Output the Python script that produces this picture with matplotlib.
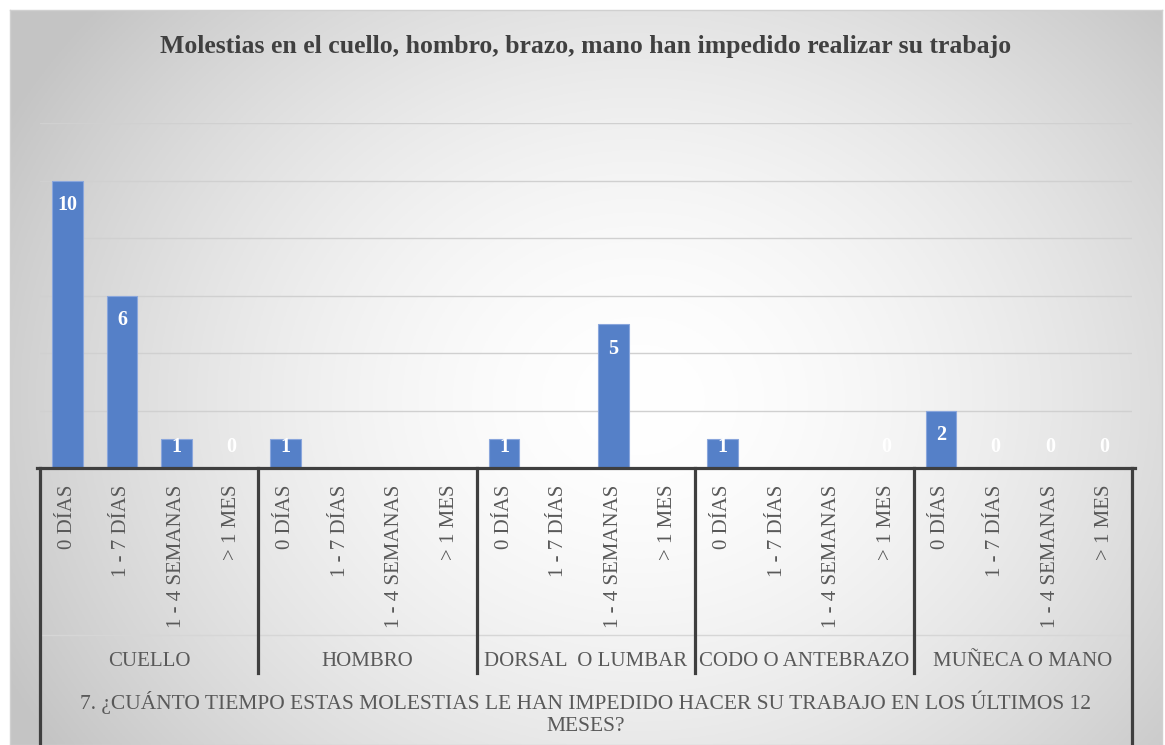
import numpy as np
import matplotlib
matplotlib.use("Agg")
import matplotlib.pyplot as plt
from matplotlib.transforms import blended_transform_factory

# data
groups = ["CUELLO", "HOMBRO", "DORSAL  O LUMBAR", "CODO O ANTEBRAZO", "MUÑECA O MANO"]
periods = ["0 DÍAS", "1 - 7 DÍAS", "1 - 4 SEMANAS", "> 1 MES"]
cuello = [10, 6, 1, 0]
hombro = [1, None, None, None]
dorsal = [1, None, 5, None]
codo = [1, None, None, 0]
muneca = [2, 0, 0, 0]
title = "Molestias en el cuello, hombro, brazo, mano han impedido realizar su trabajo"
question = "7. ¿CUÁNTO TIEMPO ESTAS MOLESTIAS LE HAN IMPEDIDO HACER SU TRABAJO EN LOS ÚLTIMOS 12\nMESES?"

values = [v for g in (cuello, hombro, dorsal, codo, muneca) for v in g]
vals = np.array([np.nan if v is None else v for v in values], dtype=float)
x = np.arange(len(vals))

plt.rcParams['font.family'] = ['Liberation Serif', 'DejaVu Serif']

W, H = 1165, 745
fig = plt.figure(figsize=(W / 100, H / 100), dpi=100)
fig.patch.set_facecolor("white")

# radial gradient background of the chart area
bg = fig.add_axes([10 / W, 0, 1152 / W, 735 / H], zorder=-10)
gx, gy = np.meshgrid(np.linspace(10, 1162, 400), np.linspace(10, 745, 300))
d = np.sqrt(((gx - 640) / 660) ** 2 + ((gy - 400) / 560) ** 2)
shade = np.clip(1 - 0.2 * d ** 1.7, 0.77, 1)
bg.imshow(np.dstack([shade] * 3), aspect="auto", extent=[0, 1, 0, 1], origin="upper")
bg.set_xticks([]); bg.set_yticks([])
for s in bg.spines.values():
    s.set_color("#d0d0d0")
    s.set_linewidth(1)

ax = fig.add_axes([40 / W, (H - 468) / H, 1092 / W, (468 - 123) / H])
ax.patch.set_alpha(0)
ax.bar(x, np.nan_to_num(vals), width=0.56, color="#5580c8", edgecolor="#8aa6dc",
       linewidth=0.8, zorder=3)
ax.set_xlim(-0.5, len(vals) - 0.5)
ax.set_ylim(0, 12)
ax.set_yticks(np.arange(2, 13, 2))
ax.yaxis.grid(True, color="#d0d0d0", linewidth=1)
ax.tick_params(left=False, labelleft=False, bottom=False, labelbottom=False)
for s in ax.spines.values():
    s.set_visible(False)

# data labels
for xi, v in zip(x, vals):
    if np.isnan(v):
        continue
    ypos = max(v - 0.85, 0.73)
    ax.text(xi, ypos, f"{int(v)}", ha="center", va="center", color="white",
            fontsize=14.5, fontweight="bold", zorder=4)

fig.text(0.5 * (40 + 1132) / W, 1 - 46 / H, title, ha="center", va="center",
         fontsize=18.5, fontweight="bold", color="#404040")

# category table below the axis
tr = blended_transform_factory(ax.transData, fig.transFigure)
y_base = (H - 468) / H
y_mid = (H - 635) / H
y_grp = (H - 673) / H
dark = "#3f3f3f"
ax.plot([-0.55, len(vals) - 0.45], [y_base, y_base], transform=tr, color=dark,
        lw=2.3, clip_on=False, zorder=5)
ax.plot([-0.5, len(vals) - 0.5], [y_mid, y_mid], transform=tr, color="#d6d6d6",
        lw=1, clip_on=False)
for i in range(len(groups) + 1):
    xb = i * len(periods) - 0.5
    y0 = 0 if i in (0, len(groups)) else y_grp
    ax.plot([xb, xb], [y_base, y0], transform=tr, color=dark, lw=2.3,
            clip_on=False, zorder=5)

for xi in x:
    ax.text(xi, (H - 485) / H, periods[xi % len(periods)], transform=tr, rotation=90,
            ha="center", va="top", fontsize=15, color="#595959")
for gi, g in enumerate(groups):
    xc = gi * len(periods) + (len(periods) - 1) / 2
    ax.text(xc, (H - 661) / H, g, transform=tr, ha="center", va="center",
            fontsize=15, color="#595959")
ax.text((len(vals) - 1) / 2, (H - 713) / H, question, transform=tr, ha="center",
        va="center", fontsize=15.5, color="#595959", linespacing=1.2)

fig.savefig("out.png", dpi=100)
